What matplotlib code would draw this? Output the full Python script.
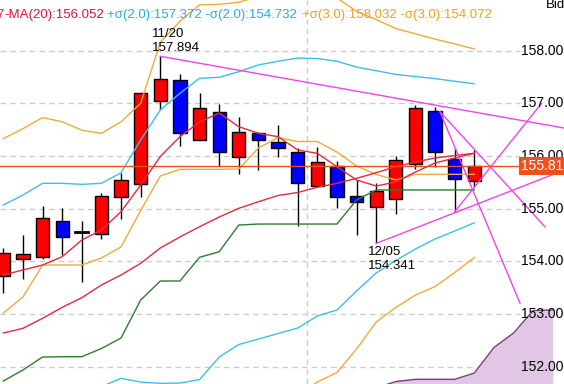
import matplotlib
matplotlib.use("Agg")
import matplotlib.pyplot as plt
from matplotlib.patches import Rectangle

plt.rcParams['font.family'] = ['Liberation Sans', 'DejaVu Sans']

# ---------------- data ----------------
dates = ["11/10", "11/11", "11/12", "11/13", "11/14", "11/17", "11/18", "11/19", "11/20", "11/21",
         "11/24", "11/25", "11/26", "11/27", "11/28", "11/29", "12/02", "12/03", "12/04", "12/05",
         "12/08", "12/09", "12/10", "12/11", "12/12"]
opens  = [153.730, 154.049, 154.087, 154.760, 154.557, 154.513, 155.216, 155.462, 157.039, 157.443,
          156.304, 156.836, 155.975, 156.431, 156.272, 156.070, 155.436, 155.816, 155.240, 155.037,
          155.178, 155.842, 156.855, 155.943, 155.531]
highs  = [154.247, 154.500, 155.050, 155.007, 154.765, 155.307, 155.683, 157.200, 157.894, 157.552,
          157.191, 156.982, 156.746, 156.450, 156.589, 156.146, 156.177, 155.905, 155.544, 155.481,
          156.000, 156.969, 156.936, 156.158, 156.114]
lows   = [153.392, 153.658, 154.038, 154.120, 153.613, 154.418, 154.798, 155.227, 156.874, 156.190,
          156.300, 155.810, 155.658, 155.734, 155.975, 154.670, 155.405, 155.007, 154.500, 154.341,
          154.898, 155.747, 155.785, 154.942, 155.417]
closes = [154.152, 154.133, 154.817, 154.467, 154.557, 155.240, 155.538, 157.191, 157.457, 156.431,
          156.906, 156.070, 156.450, 156.304, 156.146, 155.481, 155.880, 155.227, 155.121, 155.341,
          155.924, 156.906, 156.070, 155.557, 155.817]

ma5 = [153.740, 153.835, 153.930, 154.087, 154.405, 154.595, 154.942, 155.449, 155.990, 156.367,
       156.646, 156.817, 156.557, 156.431, 156.367, 156.114, 156.051, 155.797, 155.544, 155.430,
       155.506, 155.696, 155.867, 155.962, 156.053]
ma20 = [152.638, 152.727, 152.917, 153.126, 153.309, 153.550, 153.740, 153.962, 154.253, 154.462,
        154.657, 154.841, 155.007, 155.132, 155.250, 155.307, 155.406, 155.481, 155.576, 155.683,
        155.797, 155.886, 155.962, 156.010, 156.052]
bb_up2 = [155.069, 155.259, 155.481, 155.481, 155.462, 155.481, 155.683, 156.304, 156.874, 157.191,
          157.476, 157.495, 157.601, 157.730, 157.800, 157.860, 157.850, 157.800, 157.690, 157.620,
          157.550, 157.510, 157.470, 157.420, 157.372]
bb_dn2 = [150.200, 150.200, 150.350, 150.770, 151.160, 151.620, 151.778, 151.707, 151.683, 151.688,
          151.755, 152.182, 152.420, 152.524, 152.629, 152.733, 152.961, 153.075, 153.436, 153.778,
          154.015, 154.234, 154.424, 154.575, 154.732]
bb_up3 = [156.330, 156.520, 156.730, 156.650, 156.490, 156.430, 156.650, 157.000, 158.160, 158.560,
          158.870, 158.880, 158.920, 159.030, 159.080, 159.150, 159.070, 159.000, 158.750, 158.590,
          158.420, 158.320, 158.220, 158.130, 158.032]
bb_dn3 = [148.900, 148.950, 149.100, 149.600, 150.100, 150.650, 150.800, 150.600, 150.400, 150.300,
          150.300, 150.850, 151.100, 151.200, 151.350, 151.450, 151.707, 151.888, 152.334, 152.847,
          153.123, 153.360, 153.521, 153.787, 154.072]
tenkan = [153.018, 153.322, 153.930, 153.930, 153.930, 154.063, 154.272, 154.965, 155.620, 155.747,
          155.747, 155.747, 155.753, 156.152, 156.351, 156.275, 156.275, 156.076, 155.810, 155.649,
          155.544, 155.652, 155.652, 155.652, 155.652]
kijun = [151.727, 151.935, 152.182, 152.188, 152.188, 152.344, 152.543, 153.265, 153.626, 153.626,
         154.076, 154.182, 154.689, 154.708, 154.708, 154.708, 154.708, 154.708, 155.165, 155.355,
         155.355, 155.355, 155.355, 155.355, 155.355]
cloud_x = [18, 19, 20, 21, 22, 23, 24, 25, 26, 27, 28]
cloud_top = [151.40, 151.594, 151.717, 151.759, 151.759, 151.759, 151.878, 152.363, 152.638, 153.066, 153.075]
cloud_bottom = [150.80, 150.80, 150.80, 150.80, 150.80, 150.80, 150.80, 150.80, 150.80, 150.80, 150.80]

# trend lines: (x0, y0, x1, y1) in (bar index, price)
trend_lines = [
    (8.0, 157.894, 28.6, 156.53),
    (19.0, 154.341, 28.6, 155.734),
    (23.0, 154.942, 27.43, 157.001),
    (22.25, 156.841, 27.6, 154.657),
    (22.25, 156.841, 26.33, 153.202),
]

price_ticks = [152, 153, 154, 155, 156, 157, 158]
last_price = 155.817
month_break = 15.5

# ---------------- figure ----------------
W, H = 564, 384
fig = plt.figure(figsize=(W / 100, H / 100), dpi=100)
ax = fig.add_axes([0, 0, 1, 1])
ax.set_xlim(-0.168, 28.57)
ax.set_ylim(151.67, 158.963)
for s in ax.spines.values():
    s.set_visible(False)
ax.set_xticks([])
ax.set_yticks([])

ytr = ax.get_yaxis_transform()
grid_c = '#cccccc'
for p in price_ticks:
    ax.plot([0, 0.922], [p, p], transform=ytr, color=grid_c, lw=1, ls=(0, (4, 3)), zorder=1)
    ax.text(0.9235, p, f"{p:.3f}", transform=ytr, ha='left', va='center', fontsize=10, color='black', zorder=10)
ax.axvline(month_break, color=grid_c, lw=1, ls=(0, (4, 3)), zorder=1)

# cloud
ax.fill_between(cloud_x, cloud_bottom, cloud_top, color='#e2c6e6', zorder=1.5, lw=0)
ax.plot(cloud_x, cloud_top, color='#7a3c7a', lw=1, zorder=1.6)

# candles
n = len(opens)
bw = 0.68
for i in range(n):
    o, h, l, c = opens[i], highs[i], lows[i], closes[i]
    ax.plot([i, i], [l, h], color='black', lw=1, zorder=2, solid_capstyle='butt')
    if abs(c - o) < 0.01:
        ax.plot([i - bw / 2, i + bw / 2], [o, o], color='black', lw=2, zorder=3)
    else:
        col = '#ff0000' if c > o else '#0000ff'
        ax.add_patch(Rectangle((i - bw / 2, min(o, c)), bw, abs(c - o), facecolor=col,
                               edgecolor='black', lw=1, zorder=3))

xs = list(range(n))
ax.plot(xs, bb_up3, color='#f2a93b', lw=1, zorder=4)
ax.plot(xs, bb_dn3, color='#f2a93b', lw=1, zorder=4)
ax.plot(xs, bb_up2, color='#3cc0e8', lw=1, zorder=4)
ax.plot(xs, bb_dn2, color='#3cc0e8', lw=1, zorder=4)
ax.plot(xs, tenkan, color='#f2a93b', lw=1, zorder=4)
ax.plot(xs, kijun, color='#2e7d2e', lw=1, zorder=4)
ax.plot(xs, ma20, color='#e8283c', lw=1, zorder=4)
ax.plot(xs, ma5, color='#e8283c', lw=1, zorder=4)

for (x0, y0, x1, y1) in trend_lines:
    ax.plot([x0, x1], [y0, y1], color='#ee44ee', lw=1, zorder=5)

# last price
ax.axhline(last_price, color='#e8501e', lw=1, zorder=5)
ax.text(0.9235, last_price, f"{last_price:.3f}", transform=ytr, ha='left', va='center',
        fontsize=10, color='white', zorder=11,
        bbox=dict(boxstyle='square,pad=0.15', facecolor='#f0501e', edgecolor='none'))

# annotations
ax.text(7.577, 158.317, dates[8], ha='left', va='center', fontsize=9.5, zorder=6)
ax.text(7.577, 158.051, f"{highs[8]:.3f}", ha='left', va='center', fontsize=9.5, zorder=6)
ax.text(18.6, 154.177, dates[19], ha='left', va='center', fontsize=9.5, zorder=6)
ax.text(18.6, 153.911, f"{lows[19]:.3f}", ha='left', va='center', fontsize=9.5, zorder=6)

# legend header (scrolled: the first item is partly off the left edge)
ly = 1 - 15 / H
fig.text(5 / W, ly, "-MA(5):156.057", color='#e8283c', fontsize=9.5, va='center', ha='right')
fig.text(4 / W, ly, "-MA(20):156.052", color='#dc143c', fontsize=9.5, va='center', ha='left')
fig.text(107 / W, ly, "+\u03c3(2.0):157.372 -\u03c3(2.0):154.732", color='#2aace2', fontsize=9.5, va='center', ha='left')
fig.text(302 / W, ly, "+\u03c3(3.0):158.032 -\u03c3(3.0):154.072", color='#eea020', fontsize=9.5, va='center', ha='left')
fig.text(546 / W, 1 + 1 / H, "Bid", color='black', fontsize=9.5, va='top', ha='left')

fig.savefig("out.png", dpi=100)
